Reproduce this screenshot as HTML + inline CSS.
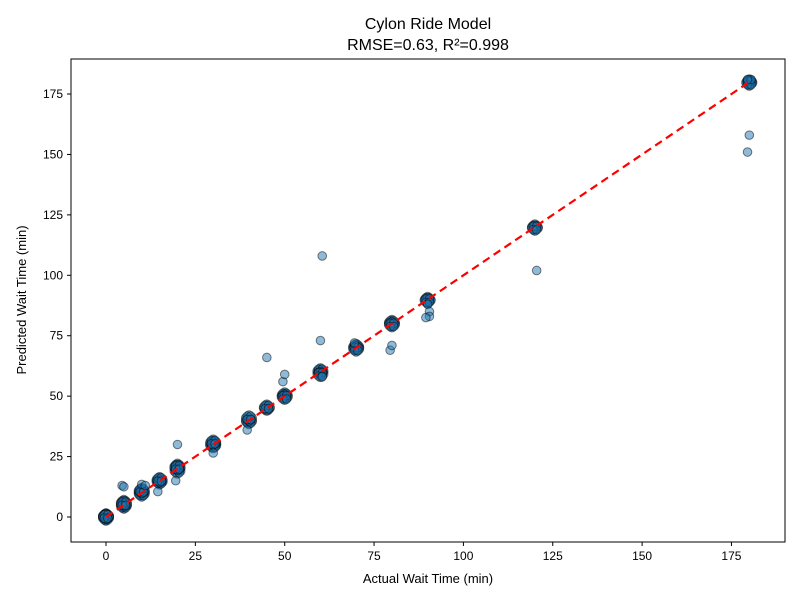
<!DOCTYPE html>
<html><head><meta charset="utf-8"><style>
body{margin:0;background:#fff;font-family:"Liberation Sans","DejaVu Sans",sans-serif}
</style></head><body>
<svg id="chart" width="800" height="600" xmlns="http://www.w3.org/2000/svg">
<rect width="800" height="600" fill="#fff"/>
<text x="428" y="29" text-anchor="middle" font-size="16">Cylon Ride Model</text>
<text x="428" y="50" text-anchor="middle" font-size="16">RMSE=0.63, R²=0.998</text>
<g id="ticks"></g>
<g id="points"></g>
<line id="ideal" stroke="red" stroke-width="2.2" stroke-dasharray="8,5"/>
<rect x="71" y="59" width="714" height="483" fill="none" stroke="#000" stroke-width="1"/>
<text x="428" y="583" text-anchor="middle" font-size="13">Actual Wait Time (min)</text>
<text transform="translate(26,300) rotate(-90)" text-anchor="middle" font-size="13">Predicted Wait Time (min)</text>
</svg>
<script>
const xTicks=[0,25,50,75,100,125,150,175];
const yTicks=[0,25,50,75,100,125,150,175];
const clusterValues=[0,0,0,0,0,5,5,5,5,10,10,10,10,15,15,15,20,20,20,20,30,30,30,30,40,40,40,45,45,50,50,50,60,60,60,70,70,70,80,80,80,90,90,120,120,180,180];
const clusterPreds=[0,0.5,-0.5,0.3,0.2,5,4.5,6,5.5,10,10.5,9.5,11,15,14.5,15.5,20,19,21,20.5,30,30.5,29.5,31,40,39.5,41,45,45.5,50,50.5,49.5,60,60.5,59,70,70.5,69.5,80,80.5,79.5,90,89.5,120,119.5,180,179.5];
const outlierActual=[4.5,5,10,11,14.5,19.5,20,30,39.5,45,49.5,50,60,60.5,60.5,69.5,79.5,80,90,90.5,90.5,89.5,120.5,180,179.5,180.5,179.5];
const outlierPred=[13,12.5,13.5,13,10.5,15,30,26.5,36,66,56,59,73,108,58,72,69,71,88,85,83,82.5,102,158,151,181,181];
const X=v=>106+v*3.574, Y=v=>517-v*2.417;
const NS="http://www.w3.org/2000/svg";
const tg=document.getElementById('ticks');
xTicks.forEach(t=>{
 const l=document.createElementNS(NS,'line');
 
 
 l.setAttribute('x1',X(t));l.setAttribute('x2',X(t));l.setAttribute('y1',542);l.setAttribute('y2',546);l.setAttribute('stroke','#000');tg.appendChild(l);
 const tx=document.createElementNS(NS,'text');
 
 
 tx.setAttribute('x',X(t));tx.setAttribute('y',560);tx.setAttribute('text-anchor','middle');tx.setAttribute('font-size','12');tx.textContent=t;tg.appendChild(tx);
});
yTicks.forEach(t=>{
 const l=document.createElementNS(NS,'line');
 
 
 l.setAttribute('x1',67);l.setAttribute('x2',71);l.setAttribute('y1',Y(t));l.setAttribute('y2',Y(t));l.setAttribute('stroke','#000');tg.appendChild(l);
 const tx=document.createElementNS(NS,'text');
 
 
 tx.setAttribute('x',63);tx.setAttribute('y',Y(t)+4);tx.setAttribute('text-anchor','end');tx.setAttribute('font-size','12');tx.textContent=t;tg.appendChild(tx);
});
const pg=document.getElementById('points');
function dot(a,p){
 const c=document.createElementNS(NS,'circle');
 
 
 c.setAttribute('cx',X(a));c.setAttribute('cy',Y(p));c.setAttribute('r',4.3);
 c.setAttribute('fill','rgba(31,119,180,0.5)');c.setAttribute('stroke','rgba(0,0,0,0.5)');c.setAttribute('stroke-width','1');
 pg.appendChild(c);
}
const jx=[-0.9,0.9,0,0,-0.5,0.5,-0.5,0.5];
const jy=[0,0,1.2,-1.2,0.7,0.7,-0.7,-0.7];
clusterValues.forEach((v,i)=>{for(let k=0;k<jx.length;k++)dot(v+jx[k],clusterPreds[i]+jy[k]);});
outlierActual.forEach((v,i)=>dot(v,outlierPred[i]));
const ln=document.getElementById('ideal');
ln.setAttribute('x1',X(0));ln.setAttribute('y1',Y(0));ln.setAttribute('x2',X(180));ln.setAttribute('y2',Y(180));
</script>
</body></html>
